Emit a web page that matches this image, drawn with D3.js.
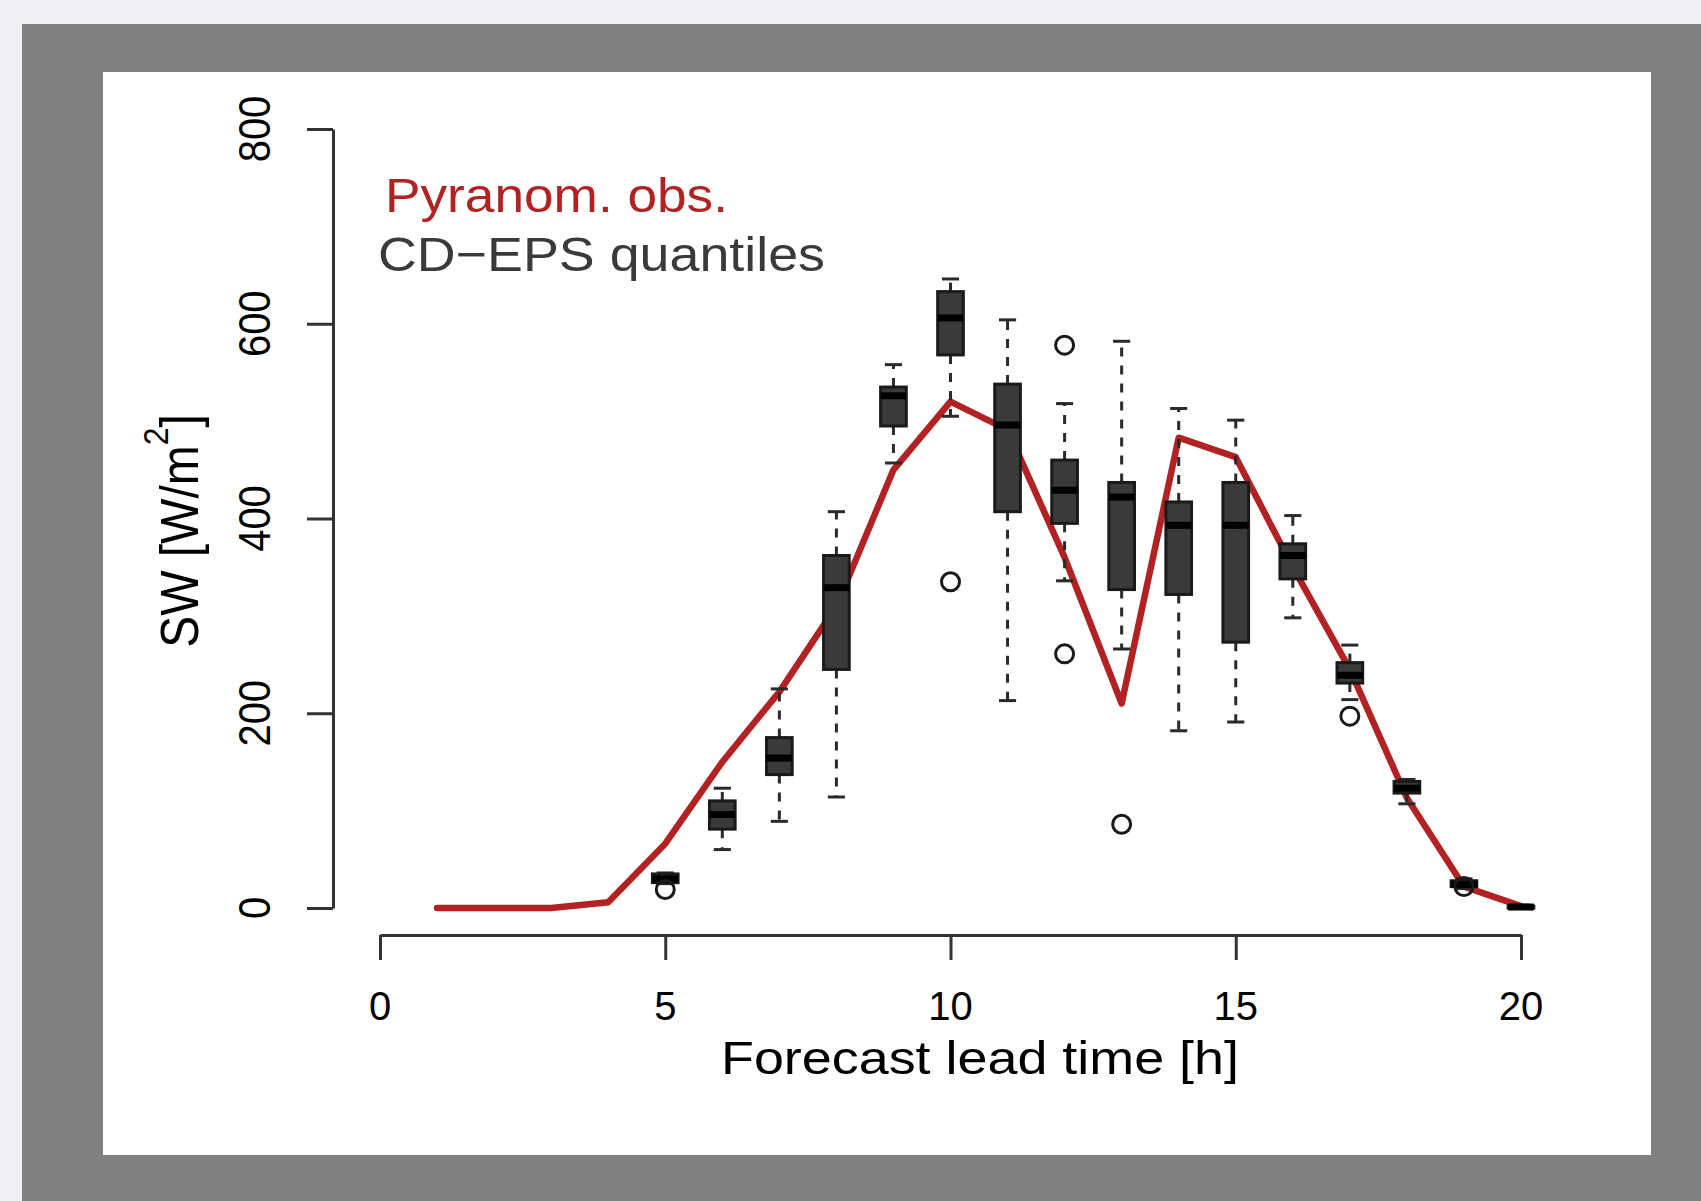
<!DOCTYPE html>
<html><head><meta charset="utf-8">
<script src="https://cdn.jsdelivr.net/npm/d3@7"></script>
<style>body{margin:0;background:#eff0f5;} svg{display:block}</style>
</head><body><svg id="c" width="1701" height="1201"></svg>
<script>
// ---- data ----
const obsHours = [1,2,3,4,5,6,7,8,9,10,11,12,13,14,15,16,17,18,19,20];
const obsValues = [0,0,0,6,66,150,222,310,450,520,491,360,210,483,463,350,245,113,22,2];
const boxHours    = [5,6,7,8,9,10,11,12,13,14,15,16,17,18,19,20];
const whiskerLow  = [25,60,89,114,457,505,213,336,266,182,191,298,214,107,20,0];
const quart1      = [26,81,137,245,495,568,407,395,327,322,273,338,231,118,22,0];
const medians     = [30,96,154,329,526,606,496,429,422,393,393,362,239,123,24,1];
const quart3      = [35,110,175,362,535,633,538,460,437,417,437,374,252,130,28,2];
const whiskerHigh = [36,123,225,407,558,646,604,518,582,513,501,403,270,132,30,3];
const outlierHours  = [5,10,12,12,13,17,19];
const outlierValues = [19,335,578,261,86,197,22];
const xTicks = [0,5,10,15,20];
const yTicks = [0,200,400,600,800];

const svg = d3.select("#c");
svg.append("rect").attr("x",0).attr("y",0).attr("width",1701).attr("height",1201).attr("fill","#eff0f5");
svg.append("rect").attr("x",22).attr("y",24).attr("width",1679).attr("height",1177).attr("fill","#808080");
svg.append("rect").attr("x",103).attr("y",72).attr("width",1548).attr("height",1083).attr("fill","#ffffff");

const x = d3.scaleLinear().domain([0,20]).range([380,1521]);
const y = d3.scaleLinear().domain([0,800]).range([908,129]);
const font = "'Liberation Sans', Arial, Helvetica, sans-serif";
const axisCol = "#333333";

// axes
const gx = svg.append("g").attr("transform","translate(0,935)")
  .call(d3.axisBottom(x).tickValues(xTicks).tickSize(25).tickSizeOuter(0).tickFormat(""));
const gy = svg.append("g").attr("transform","translate(333,0)")
  .call(d3.axisLeft(y).tickValues(yTicks).tickSize(26).tickSizeOuter(0).tickFormat(""));
[gx,gy].forEach(g=>{
  g.select(".domain").attr("stroke",axisCol).attr("stroke-width",3);
  g.selectAll(".tick line").attr("stroke",axisCol).attr("stroke-width",3);
});

// tick labels
svg.append("g").selectAll("text").data(xTicks).join("text")
  .attr("x",d=>x(d)).attr("y",1020).attr("text-anchor","middle")
  .attr("font-family",font).attr("font-size",40).attr("fill","#000")
  .text(d=>d);
svg.append("g").selectAll("text").data(yTicks).join("text")
  .attr("transform",d=>`translate(270,${y(d)}) scale(1.1,1) rotate(-90)`)
  .attr("text-anchor","middle")
  .attr("font-family",font).attr("font-size",40).attr("fill","#000")
  .text(d=>d);

// axis titles
svg.append("text").attr("x",721).attr("y",1074)
  .attr("font-family",font).attr("font-size",46).attr("fill","#000")
  .attr("textLength",518).attr("lengthAdjust","spacingAndGlyphs")
  .text("Forecast lead time [h]");
const yl = svg.append("text")
  .attr("transform","translate(198,531) scale(1.1,1) rotate(-90)")
  .attr("text-anchor","middle")
  .attr("font-family",font).attr("font-size",48).attr("fill","#000");
yl.append("tspan").text("SW [W/m");
yl.append("tspan").attr("font-size",32).attr("dy",-27).text("2");
yl.append("tspan").attr("dy",27).text("]");

// legend texts
svg.append("text").attr("x",385).attr("y",212)
  .attr("font-family",font).attr("font-size",49).attr("fill","#b22222")
  .attr("textLength",343).attr("lengthAdjust","spacingAndGlyphs")
  .text("Pyranom. obs.");
svg.append("text").attr("x",378).attr("y",271)
  .attr("font-family",font).attr("font-size",49).attr("fill","#3a3a3a")
  .attr("textLength",447).attr("lengthAdjust","spacingAndGlyphs")
  .text("CD\u2212EPS quantiles");

// observation line
svg.append("path")
  .datum(obsHours.map((h,i)=>[h,obsValues[i]]))
  .attr("d",d3.line().x(d=>x(d[0])).y(d=>y(d[1])))
  .attr("fill","none").attr("stroke","#b22222").attr("stroke-width",6.5)
  .attr("stroke-linejoin","round").attr("stroke-linecap","round");

// boxes
const bw = x(0.45)-x(0), cw = x(0.3)-x(0);
const boxes = svg.append("g");
boxHours.forEach((h,i)=>{
  const cx = x(h);
  const g = boxes.append("g");
  g.append("line").attr("x1",cx).attr("x2",cx).attr("y1",y(quart3[i])).attr("y2",y(whiskerHigh[i]))
    .attr("stroke","#2a2a2a").attr("stroke-width",3).attr("stroke-dasharray","9,9");
  g.append("line").attr("x1",cx).attr("x2",cx).attr("y1",y(quart1[i])).attr("y2",y(whiskerLow[i]))
    .attr("stroke","#2a2a2a").attr("stroke-width",3).attr("stroke-dasharray","9,9");
  [whiskerHigh[i],whiskerLow[i]].forEach(v=>{
    g.append("line").attr("x1",cx-cw/2).attr("x2",cx+cw/2).attr("y1",y(v)).attr("y2",y(v))
      .attr("stroke","#2a2a2a").attr("stroke-width",3);
  });
  g.append("rect").attr("x",cx-bw/2).attr("width",bw)
    .attr("y",y(quart3[i])).attr("height",Math.max(0.5,y(quart1[i])-y(quart3[i])))
    .attr("fill","#3a3a3a").attr("stroke","#1a1a1a").attr("stroke-width",3);
  g.append("line").attr("x1",cx-bw/2).attr("x2",cx+bw/2).attr("y1",y(medians[i])).attr("y2",y(medians[i]))
    .attr("stroke","#000").attr("stroke-width",7);
});
// outliers
svg.append("g").selectAll("circle").data(outlierHours.map((h,i)=>[h,outlierValues[i]])).join("circle")
  .attr("cx",d=>x(d[0])).attr("cy",d=>y(d[1])).attr("r",9)
  .attr("fill","none").attr("stroke","#1a1a1a").attr("stroke-width",3);
</script></body></html>
